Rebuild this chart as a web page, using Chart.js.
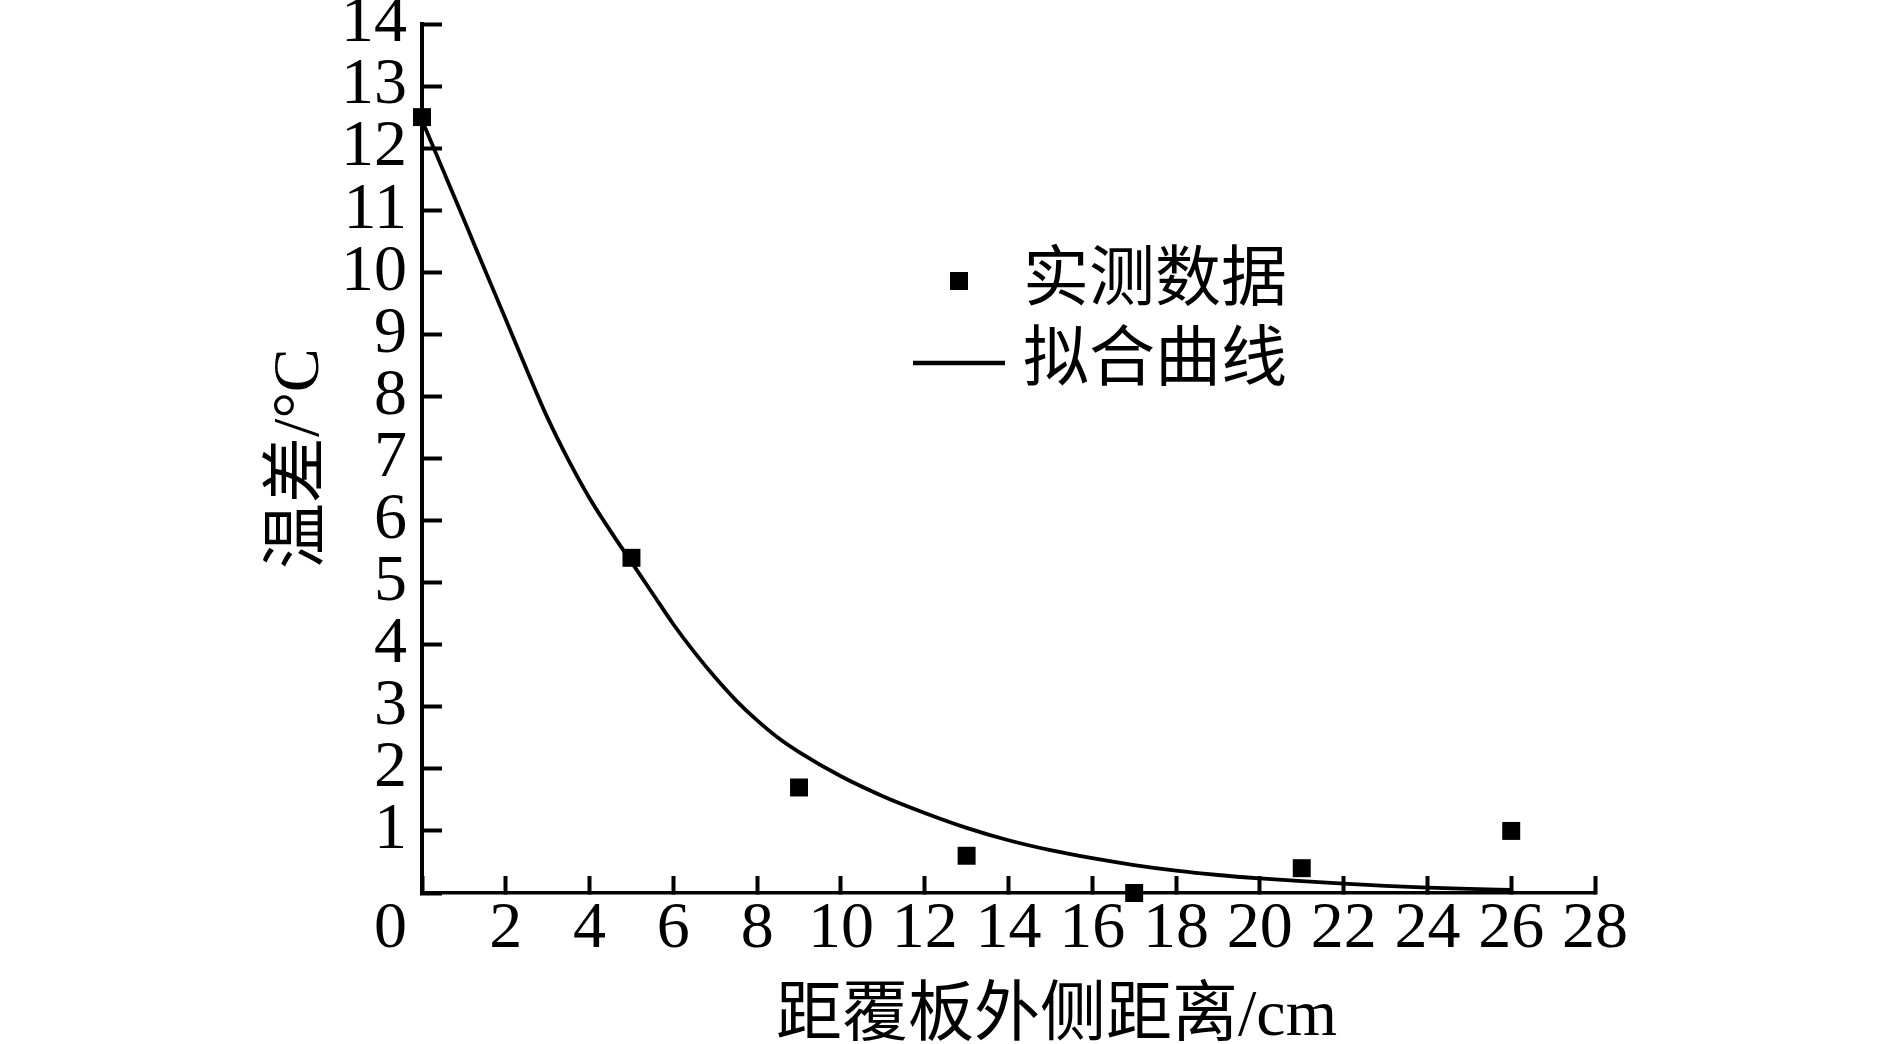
<!DOCTYPE html>
<html><head>
<meta charset="utf-8">
<title>温差与距覆板外侧距离</title>
<script src="https://cdn.jsdelivr.net/npm/chart.js"></script>
<style>
  html, body {
    margin: 0;
    padding: 0;
    background: #fff;
    overflow: hidden;
  }
  .wrap {
    position: relative;
    width: 1889px;
    height: 1044px;
  }
</style>
</head>
<body>
<div class="wrap">
  <canvas id="chart"></canvas>
</div>

<script>
// measured points
const measuredX = [0, 5, 9, 13, 17, 21, 26];
const measuredY = [12.5, 5.4, 1.7, 0.6, 0.0, 0.4, 1.0];

// fitted curve
const fitX = [0, 0.5, 1, 1.5, 2, 2.5, 3, 3.5, 4, 4.5, 5, 5.5, 6, 6.5, 7, 7.5, 8, 8.5, 9,
  10, 11, 12, 13, 14, 15, 16, 17, 18, 19, 20, 21, 22, 23, 24, 25, 26];
const fitY = [12.45, 11.65, 10.85, 10.04, 9.24, 8.43, 7.65, 6.97, 6.36, 5.83, 5.33, 4.83, 4.33,
  3.88, 3.47, 3.1, 2.78, 2.5, 2.27, 1.88, 1.56, 1.29, 1.05, 0.85, 0.69, 0.56, 0.45, 0.36,
  0.29, 0.235, 0.19, 0.15, 0.115, 0.088, 0.067, 0.05];

const seriesLabels = ['实测数据', '拟合曲线'];
const xTitle = '距覆板外侧距离/cm';
const yTitle = '温差/°C';

const serif = "'Liberation Serif', 'Times New Roman', serif";
const titleFamily = "'Liberation Serif', 'Noto Sans CJK SC', serif";

// draws the corner "0", the x title and the legend
const extras = {
  id: 'extras',
  afterDraw(chart) {
    const {ctx, chartArea, scales: {x}} = chart;
    ctx.save();
    ctx.fillStyle = '#000';
    ctx.strokeStyle = '#000';

    ctx.font = '66px ' + serif;
    ctx.textAlign = 'right';
    ctx.textBaseline = 'middle';
    ctx.fillText('0', chartArea.left - 15, x.top + 37);

    ctx.font = '66px ' + titleFamily;
    ctx.textAlign = 'center';
    ctx.fillText(xTitle, (x.left + x.right) / 2 + 48, 1018);

    // legend
    const lx = 1023, ly = 283, gap = 80;
    ctx.textAlign = 'left';
    chart.data.datasets.forEach((ds, i) => {
      const cy = ly + i * gap;
      if (ds.type === 'scatter') {
        ctx.fillRect(950, cy - 11, 18, 18);
      } else {
        ctx.lineWidth = 4.5;
        ctx.beginPath();
        ctx.moveTo(913, cy);
        ctx.lineTo(1005, cy);
        ctx.stroke();
      }
      ctx.fillText(ds.label, lx, cy);
    });
    ctx.restore();
  }
};

new Chart(document.getElementById('chart'), {
  data: {
    datasets: [{
      type: 'scatter',
      label: seriesLabels[0],
      data: measuredX.map((v, i) => ({x: v, y: measuredY[i]})),
      pointStyle: 'rect',
      pointRadius: 12.7,
      pointHoverRadius: 12.7,
      backgroundColor: '#000',
      borderColor: '#000',
      borderWidth: 0,
      clip: false
    }, {
      type: 'line',
      label: seriesLabels[1],
      data: fitX.map((v, i) => ({x: v, y: fitY[i]})),
      borderColor: '#000',
      borderWidth: 3.8,
      pointRadius: 0,
      fill: false,
      cubicInterpolationMode: 'monotone',
      clip: false
    }]
  },
  options: {
    responsive: true,
    maintainAspectRatio: false,
    animation: false,
    events: [],
    layout: {
      padding: {top: 24, right: 294, bottom: 0, left: 0}
    },
    plugins: {
      legend: {display: false},
      tooltip: {enabled: false}
    },
    scales: {
      x: {
        type: 'linear',
        min: 0,
        max: 28,
        ticks: {
          stepSize: 2,
          autoSkip: false,
          color: '#000',
          padding: 21,
          maxRotation: 0,
          font: {family: serif, size: 66, lineHeight: 1},
          callback: v => v === 0 ? '' : v
        },
        grid: {
          drawOnChartArea: false,
          drawTicks: true,
          tickLength: -17,
          tickWidth: 4,
          color: '#000'
        },
        border: {display: true, color: '#000', width: 3.5},
        afterFit: s => {
          s.height = 151;
          s.paddingLeft = 0;
          s.paddingRight = 0;
        }
      },
      y: {
        type: 'linear',
        min: 0,
        max: 14,
        ticks: {
          stepSize: 1,
          autoSkip: false,
          color: '#000',
          padding: 35,
          font: {family: serif, size: 66, lineHeight: 1},
          callback: v => v === 0 ? '' : v
        },
        grid: {
          drawOnChartArea: false,
          drawTicks: true,
          tickLength: -20,
          tickWidth: 4,
          color: '#000'
        },
        border: {display: true, color: '#000', width: 4},
        title: {
          display: true,
          text: yTitle,
          color: '#000',
          font: {family: titleFamily, size: 66, lineHeight: 1},
          padding: {top: 268, bottom: 0}
        },
        afterFit: s => {
          s.width = 422;
          s.paddingTop = 0;
          s.paddingBottom = 0;
        }
      }
    }
  },
  plugins: [extras]
});
</script>
</body></html>
